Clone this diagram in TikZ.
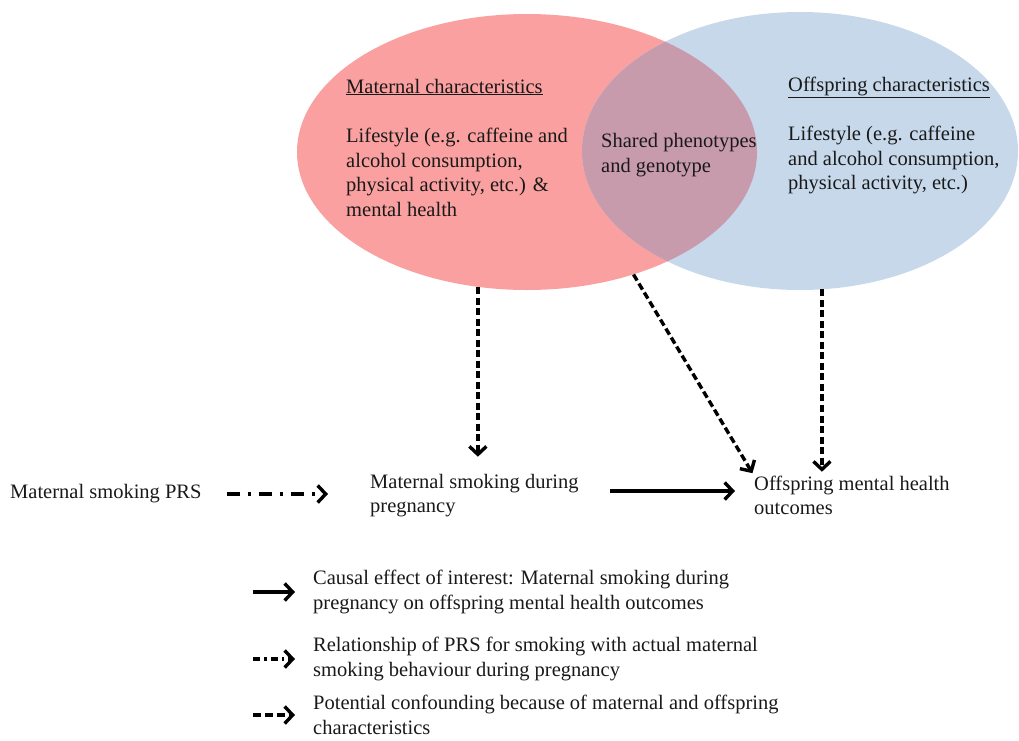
\documentclass[tikz,border=0pt]{standalone}
\usepackage{fontspec}
\setmainfont{Liberation Serif}
\usetikzlibrary{arrows.meta,shapes.geometric}
\definecolor{mred}{RGB}{250,160,160}
\definecolor{oblue}{RGB}{198,216,234}
\definecolor{shared}{RGB}{200,155,172}
\begin{document}
\begin{tikzpicture}[x=1pt,y=-1pt,
  txt/.style={font=\fontsize{20.5}{24.5}\selectfont, inner sep=0pt, align=left, anchor=west, text=black!90},
  arr/.style={line width=3.4pt, -{Straight Barb[length=8pt,width=17pt,line width=3.4pt]}},
  conf/.style={arr, dash pattern=on 7pt off 3.5pt},
  dd/.style={arr, dash pattern=on 13pt off 8pt on 3pt off 8pt},
  venn/.style={ellipse, inner sep=0pt}
]
\useasboundingbox (0,0) rectangle (1019,740);
% Venn ellipses
\node[venn, fill=mred, minimum width=460pt, minimum height=276pt] (red) at (527,152) {};
\node[venn, fill=oblue, minimum width=436pt, minimum height=278pt] (blue) at (800,151) {};
\begin{scope}
  \clip (527,152) ellipse [x radius=230pt, y radius=138pt];
  \fill[shared] (800,151) ellipse [x radius=218pt, y radius=139pt];
\end{scope}
% texts in ellipses
\node[txt] (mc) at (346,87) {\underline{Maternal characteristics}};
\node[txt] (ml) at (346,172.5) {Lifestyle (e.g. caffeine and\\alcohol consumption,\\physical activity, etc.) \&\\mental health};
\node[txt] (sh) at (601,155) {Shared phenotypes\\and genotype};
\node[txt] (oc) at (788,87) {\underline{Offspring characteristics}};
\node[txt] (ol) at (788,160) {Lifestyle (e.g. caffeine\\and alcohol consumption,\\physical activity, etc.)};
% main nodes
\node[txt] (prs) at (10,494) {Maternal smoking PRS};
\node[txt] (msp) at (370,495.5) {Maternal smoking during\\pregnancy};
\node[txt] (omh) at (754,495.5) {Offspring mental health\\outcomes};
% legend
\node[txt] (l1) at (313,592) {Causal effect of interest: Maternal smoking during\\pregnancy on offspring mental health outcomes};
\node[txt] (l2) at (313,659) {Relationship of PRS for smoking with actual maternal\\smoking behaviour during pregnancy};
\node[txt] (l3) at (313,715) {Potential confounding because of maternal and offspring\\characteristics};
% connectors
\draw[conf, shorten >=17pt] (red.250.8) -- (red.250.8 |- msp.north);
\draw[conf, shorten >=3pt] (red.-49) -- (omh.north west);
\draw[conf, shorten >=4pt] (blue.-81.8) -- (blue.-81.8 |- omh.north);
\draw[dd, shorten <=25pt, shorten >=42pt] (prs.east) -- (prs.east -| msp.west);
\draw[arr, shorten <=31pt, shorten >=19pt] ([yshift=4.5pt]msp.east) -- ([yshift=4.5pt]msp.east -| omh.west);
% legend arrows
\draw[arr] ([xshift=-60pt]l1.west) -- ([xshift=-18pt]l1.west);
\draw[dd, dash pattern=on 7pt off 4pt on 2.5pt off 4pt] ([xshift=-60pt]l2.west) -- ([xshift=-18pt]l2.west);
\draw[conf, dash pattern=on 8pt off 4pt] ([xshift=-60pt]l3.west) -- ([xshift=-18pt]l3.west);
\end{tikzpicture}
\end{document}
